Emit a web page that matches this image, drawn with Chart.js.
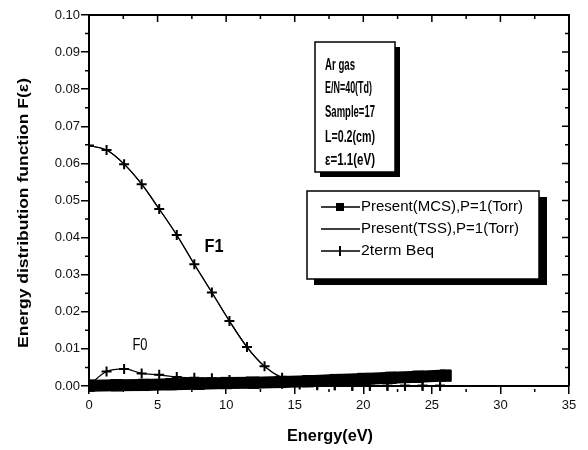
<!DOCTYPE html>
<html lang="en">
<head>
  <meta charset="UTF-8" />
  <title>Energy distribution function</title>
  <script src="https://cdn.jsdelivr.net/npm/chart.js"></script>
  <style>
    html, body { margin: 0; padding: 0; background: #fff; }
    #wrap { width: 588px; height: 450px; position: relative; }
  </style>
</head>
<body>
<div id="wrap"><canvas id="chart"></canvas></div>
<script>
  // Data
  const xTicks = [0, 5, 10, 15, 20, 25, 30, 35];
  const yTicks = [0, 0.01, 0.02, 0.03, 0.04, 0.05, 0.06, 0.07, 0.08, 0.09, 0.10];

  // Present(MCS) - thick band of square markers
  const mcsE = [0, 2, 4, 6, 8, 10, 12, 14, 16, 18, 20, 22, 24, 26];
  const mcsF = [0.0001, 0.0002, 0.0003, 0.0005, 0.0006, 0.0008, 0.0009, 0.0011, 0.0013, 0.0016, 0.0019, 0.0022, 0.0025, 0.0028];

  // 2 term Boltzmann: F1 and F0
  const beqE  = [0, 1.28, 2.56, 3.84, 5.12, 6.4, 7.68, 8.96, 10.24, 11.52, 12.8, 14.08, 15.36, 16.64, 17.92, 19.2, 20.48, 21.76, 23.04, 24.32, 25.6];
  const beqF1 = [0.0648, 0.0636, 0.0598, 0.0544, 0.0477, 0.0407, 0.0328, 0.0252, 0.0175, 0.0105, 0.0053, 0.0022, 0.0008, 0.0004, 0.0002, 0.0001, 0.0001, 0.0001, 0.0001, 0.0001, 0.0001];
  const beqF0 = [0.0002, 0.0039, 0.0046, 0.0034, 0.0030, 0.0024, 0.0022, 0.0021, 0.0016, 0.0012, 0.0009, 0.0006, 0.0004, 0.0002, 0.0002, 0.0001, 0.0001, 0.0001, 0.0001, 0.0001, 0.0001];

  // Present(TSS) - thin curve along F1
  const tssE = [0, 1.28, 2.56, 3.84, 5.12, 6.4, 7.68, 8.96, 10.24, 11.52, 12.8, 14.08, 16, 20, 25.6];
  const tssF = [0.0648, 0.0636, 0.0598, 0.0544, 0.0477, 0.0407, 0.0328, 0.0252, 0.0175, 0.0105, 0.0053, 0.0022, 0.0005, 0.0001, 0.0001];

  const infoLines = ['Ar gas', 'E/N=40(Td)', 'Sample=17', 'L=0.2(cm)', 'ε=1.1(eV)'];

  const pts = (xs, ys) => xs.map((x, i) => ({ x: x, y: ys[i] }));

  // draw text squeezed into a given width
  function fitText(ctx, s, x, y, font, w, align) {
    ctx.save();
    ctx.font = font;
    ctx.textBaseline = 'middle';
    ctx.textAlign = 'left';
    const m = ctx.measureText(s).width;
    const k = w / m;
    let x0 = x;
    if (align === 'center') x0 = x - w / 2;
    ctx.translate(x0, y);
    ctx.scale(k, 1);
    ctx.fillText(s, 0, 0);
    ctx.restore();
  }

  const decor = {
    id: 'decor',
    afterDraw(chart) {
      const ctx = chart.ctx;
      const a = chart.chartArea;
      const xs = chart.scales.x, ys = chart.scales.y;
      ctx.save();
      ctx.strokeStyle = '#000';
      ctx.fillStyle = '#000';

      // top and right frame
      ctx.lineWidth = 2;
      ctx.beginPath();
      ctx.moveTo(a.left, a.top); ctx.lineTo(a.right, a.top); ctx.lineTo(a.right, a.bottom);
      ctx.stroke();

      // ticks
      ctx.lineWidth = 1.5;
      ctx.beginPath();
      for (let v = 0; v <= 35.01; v += 2.5) {
        const px = xs.getPixelForValue(v);
        const major = Math.abs(v % 5) < 0.01;
        ctx.moveTo(px, a.top); ctx.lineTo(px, a.top + (major ? 7 : 4));
        if (!major) { ctx.moveTo(px, a.bottom + 3); ctx.lineTo(px, a.bottom + 6); }
      }
      for (let v = 0; v <= 0.1001; v += 0.005) {
        const py = ys.getPixelForValue(v);
        const major = Math.round(v * 1000) % 10 === 0;
        ctx.moveTo(a.right, py); ctx.lineTo(a.right - (major ? 7 : 4), py);
        if (!major) { ctx.moveTo(a.left, py); ctx.lineTo(a.left - 4, py); }
      }
      ctx.stroke();

      // info box
      ctx.fillRect(320, 47, 80, 130);
      ctx.fillStyle = '#fff';
      ctx.fillRect(315, 42, 80, 130);
      ctx.lineWidth = 1.5;
      ctx.strokeRect(315, 42, 80, 130);
      ctx.fillStyle = '#000';
      const infoW = [30, 47, 50, 50, 50];
      const infoY = [65, 88, 112, 137, 160];
      infoLines.forEach((s, i) => fitText(ctx, s, 325, infoY[i], 'bold 17px "Liberation Sans"', infoW[i]));

      // legend box
      ctx.fillRect(314, 197, 233, 88);
      ctx.fillStyle = '#fff';
      ctx.fillRect(307, 191, 232, 88);
      ctx.strokeRect(307, 191, 232, 88);
      ctx.fillStyle = '#000';
      const rowY = [207, 229, 251];
      ctx.lineWidth = 1.5;
      ctx.beginPath();
      rowY.forEach(y => { ctx.moveTo(321, y); ctx.lineTo(360, y); });
      ctx.stroke();
      ctx.fillRect(336, rowY[0] - 4, 8, 8);
      ctx.lineWidth = 2;
      ctx.beginPath();
      ctx.moveTo(340, rowY[2] - 5); ctx.lineTo(340, rowY[2] + 5);
      ctx.stroke();
      fitText(ctx, 'Present(MCS),P=1(Torr)', 361, rowY[0], '15px "Liberation Sans"', 162);
      fitText(ctx, 'Present(TSS),P=1(Torr)', 361, rowY[1], '15px "Liberation Sans"', 158);
      fitText(ctx, '2term Beq', 361, rowY[2], '15px "Liberation Sans"', 73);

      // curve labels
      fitText(ctx, 'F1', 214, 247, 'bold 19px "Liberation Sans"', 19, 'center');
      fitText(ctx, 'F0', 140, 346, '16px "Liberation Sans"', 15, 'center');

      // axis titles
      fitText(ctx, 'Energy(eV)', 330, 437, 'bold 16px "Liberation Sans"', 86, 'center');
      ctx.save();
      ctx.translate(24, 213);
      ctx.rotate(-Math.PI / 2);
      fitText(ctx, 'Energy distribution function F(ε)', 0, 0, 'bold 15px "Liberation Sans"', 270, 'center');
      ctx.restore();

      ctx.restore();
    }
  };

  new Chart(document.getElementById('chart'), {
    type: 'scatter',
    data: {
      datasets: [
        {
          label: 'Present(MCS),P=1(Torr)',
          data: pts(mcsE, mcsF),
          showLine: true,
          clip: { left: 0, top: false, right: false, bottom: 8 },
          borderColor: '#000',
          backgroundColor: '#000',
          borderWidth: 12,
          borderCapStyle: 'butt',
          pointStyle: 'rect',
          pointRadius: 8,
          pointBorderWidth: 1,
          order: 0
        },
        {
          label: 'Present(TSS),P=1(Torr)',
          data: pts(tssE, tssF),
          showLine: true,
          borderColor: '#000',
          borderWidth: 1.2,
          pointRadius: 0,
          cubicInterpolationMode: 'monotone',
          order: 2
        },
        {
          label: '2term Beq',
          data: pts(beqE, beqF1),
          showLine: true,
          clip: { left: 0, top: false, right: false, bottom: 8 },
          borderColor: '#000',
          backgroundColor: '#000',
          borderWidth: 1.2,
          pointStyle: 'cross',
          pointRadius: 5,
          pointBorderWidth: 2,
          cubicInterpolationMode: 'monotone',
          order: 1
        },
        {
          label: '2term Beq F0',
          data: pts(beqE, beqF0),
          showLine: true,
          clip: { left: 0, top: false, right: false, bottom: 8 },
          borderColor: '#000',
          backgroundColor: '#000',
          borderWidth: 1.2,
          pointStyle: 'cross',
          pointRadius: 5,
          pointBorderWidth: 2,
          cubicInterpolationMode: 'monotone',
          order: 1
        }
      ]
    },
    options: {
      responsive: true,
      maintainAspectRatio: false,
      animation: false,
      events: [],
      layout: { padding: { left: 0, right: 19, top: 15, bottom: 0 } },
      plugins: {
        legend: { display: false },
        tooltip: { enabled: false }
      },
      scales: {
        x: {
          type: 'linear',
          min: 0,
          max: 35,
          afterBuildTicks: s => { s.ticks = xTicks.map(v => ({ value: v })); },
          afterFit: s => { s.height = 64; },
          ticks: {
            color: '#111',
            font: { family: 'Liberation Sans', size: 13 },
            padding: 4,
            maxRotation: 0
          },
          grid: { drawOnChartArea: false, color: '#000', lineWidth: 1.5, tickLength: 8 },
          border: { color: '#000', width: 2 }
        },
        y: {
          type: 'linear',
          min: 0,
          max: 0.1,
          afterBuildTicks: s => { s.ticks = yTicks.map(v => ({ value: v })); },
          afterFit: s => { s.width = 89; },
          ticks: {
            color: '#111',
            font: { family: 'Liberation Sans', size: 13 },
            padding: 1,
            callback: v => v.toFixed(2)
          },
          grid: { drawOnChartArea: false, color: '#000', lineWidth: 1.5, tickLength: 8 },
          border: { color: '#000', width: 2 }
        }
      }
    },
    plugins: [decor]
  });
</script>
</body>
</html>
